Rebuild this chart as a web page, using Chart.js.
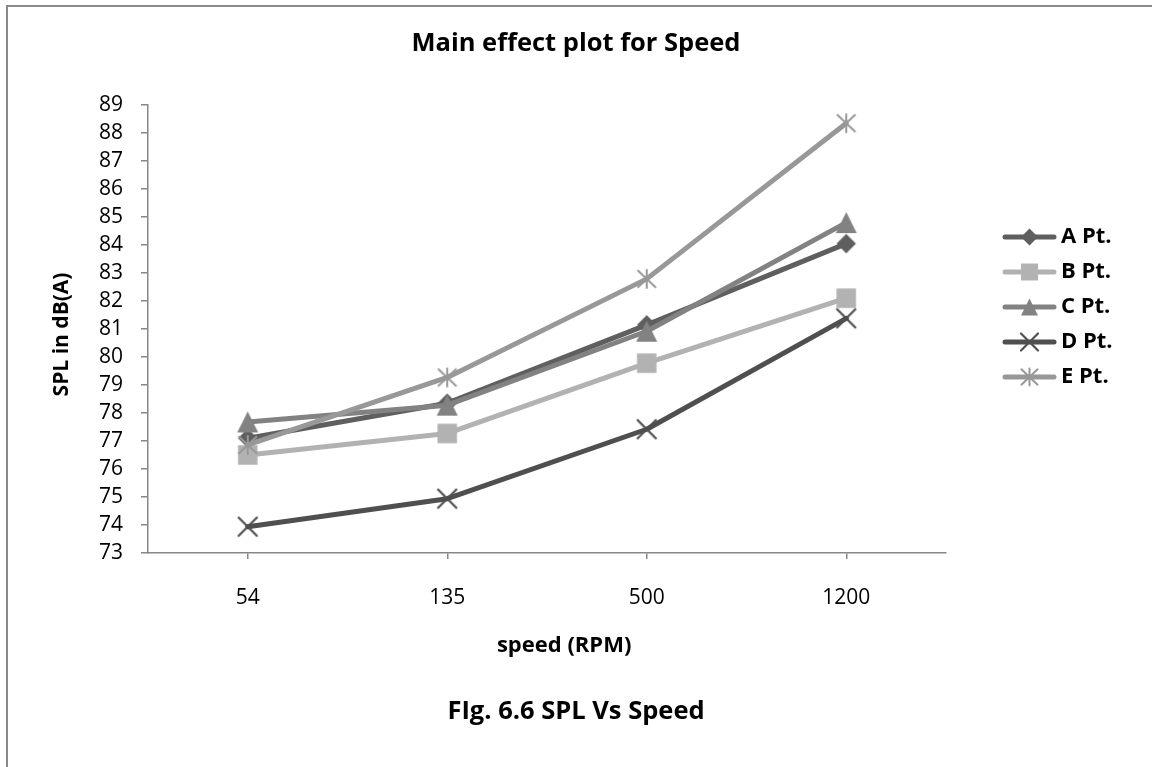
<!DOCTYPE html>
<html>
<head>
<meta charset="utf-8">
<title>SPL Vs Speed</title>
<script src="https://cdn.jsdelivr.net/npm/chart.js@4/dist/chart.umd.min.js"></script>
<style>
  html, body { margin: 0; padding: 0; background: #ffffff; }
  #frame {
    position: absolute; left: 6px; top: 5px; width: 1146px; height: 762px;
    border-left: 2px solid #8a8a8a; border-top: 2px solid #8a8a8a;
  }
  #wrap { position: absolute; left: 0; top: 0; width: 1152px; height: 767px; }
</style>
</head>
<body>
<div id="frame"></div>
<div id="wrap"><canvas id="chart" width="1152" height="767"></canvas></div>
<script>
// Speeds on the category axis
const speeds = ['54', '135', '500', '1200'];

// Measurement points (series names)
const seriesNames = ['A Pt.', 'B Pt.', 'C Pt.', 'D Pt.', 'E Pt.'];

// SPL in dB(A) for each point at each speed
const aPt = [77.10, 78.35, 81.15, 84.05];
const bPt = [76.50, 77.27, 79.78, 82.10];
const cPt = [77.68, 78.28, 80.92, 84.80];
const dPt = [73.94, 74.94, 77.42, 81.38];
const ePt = [76.86, 79.27, 82.79, 88.35];

// Value axis range and step
const yMin = 73;
const yMax = 89;
const yStep = 1;

const seriesValues = [aPt, bPt, cPt, dPt, ePt];

// Look of each series
const seriesColors = ['#5f5f5f', '#b2b2b2', '#828282', '#4f4f4f', '#989898'];
const seriesMarkers = ['diamond', 'square', 'triangle', 'cross', 'star'];

const FONT = '"Open Sans", Lato, "Liberation Sans", sans-serif';
Chart.defaults.font.family = FONT;
Chart.defaults.color = '#000000';

function drawMarker(g, kind, color, s) {
  const h = s / 2;
  g.fillStyle = color;
  g.strokeStyle = color;
  g.beginPath();
  switch (kind) {
    case 'diamond':
      g.moveTo(0, -h); g.lineTo(h, 0); g.lineTo(0, h); g.lineTo(-h, 0);
      g.closePath(); g.fill();
      break;
    case 'square':
      g.rect(-h, -h, s, s); g.fill();
      break;
    case 'triangle':
      g.moveTo(0, -h); g.lineTo(h, h); g.lineTo(-h, h);
      g.closePath(); g.fill();
      break;
    case 'cross':
      g.lineWidth = 2.2;
      g.moveTo(-h, -h); g.lineTo(h, h);
      g.moveTo(h, -h); g.lineTo(-h, h);
      g.stroke();
      break;
    case 'star':
      g.lineWidth = 2;
      g.moveTo(0, -h); g.lineTo(0, h);
      g.moveTo(-h * 0.95, -h * 0.9); g.lineTo(h * 0.95, h * 0.9);
      g.moveTo(h * 0.95, -h * 0.9); g.lineTo(-h * 0.95, h * 0.9);
      g.stroke();
      break;
  }
}

function markerImage(kind, color, s) {
  const w = Math.ceil(s + 6);
  const c = document.createElement('canvas');
  c.width = w; c.height = w;
  const g = c.getContext('2d');
  g.translate(w / 2, w / 2);
  drawMarker(g, kind, color, s);
  return c;
}

// Legend key: a short stroke of the series line with its marker in the middle
function legendImage(kind, color, s) {
  const w = 55, hgt = 24;
  const c = document.createElement('canvas');
  c.width = w; c.height = hgt;
  const g = c.getContext('2d');
  g.strokeStyle = color;
  g.lineWidth = 5;
  g.lineCap = 'round';
  g.beginPath();
  g.moveTo(3, hgt / 2); g.lineTo(w - 3, hgt / 2);
  g.stroke();
  g.translate(w / 2, hgt / 2);
  drawMarker(g, kind, color, s);
  return c;
}

const pointImages = seriesMarkers.map((m, i) => markerImage(m, seriesColors[i], m === 'triangle' ? 21 : 19.5));
const legendImages = seriesMarkers.map((m, i) => legendImage(m, seriesColors[i], 17));

// Space kept between the plot and the legend
let legendGapWidth = 0;

// Places the legend block beside the plot
const legendAnchor = {
  id: 'legendAnchor',
  afterLayout(chart, args, opts) {
    const lg = chart.legend;
    if (!lg) return;
    const dx = opts.left - lg.left;
    const dy = opts.centerY - (lg.top + lg.bottom) / 2;
    lg.left += dx; lg.right += dx;
    lg.top += dy; lg.bottom += dy;
  }
};

const chart = new Chart(document.getElementById('chart'), {
  type: 'line',
  data: {
    labels: speeds,
    datasets: seriesNames.map((name, i) => ({
      label: name,
      data: seriesValues[i],
      borderColor: seriesColors[i],
      backgroundColor: seriesColors[i],
      borderWidth: 5,
      borderJoinStyle: 'round',
      borderCapStyle: 'round',
      pointStyle: pointImages[i],
      pointRadius: 10,
      pointHoverRadius: 10,
      tension: 0,
      fill: false,
      order: seriesNames.length - i
    }))
  },
  options: {
    responsive: false,
    devicePixelRatio: 1,
    animation: false,
    events: [],
    layout: { padding: 0 },
    scales: {
      x: {
        type: 'category',
        offset: true,
        grid: {
          offset: false,
          drawOnChartArea: false,
          drawTicks: true,
          tickLength: 6,
          color: '#878787',
          lineWidth: 1.5
        },
        border: { color: '#878787', width: 1.5 },
        ticks: { padding: 26.4, font: { size: 21 }, color: '#000000', autoSkip: false, maxRotation: 0 },
        title: {
          display: true,
          text: '      speed (RPM)',
          font: { size: 22, weight: 'bold' },
          color: '#000000',
          padding: { top: -4.2, bottom: 0 }
        }
      },
      y: {
        min: yMin,
        max: yMax,
        grid: {
          drawOnChartArea: false,
          drawTicks: true,
          tickLength: 7,
          color: '#878787',
          lineWidth: 1.5
        },
        border: { color: '#878787', width: 1.5 },
        ticks: { stepSize: yStep, padding: 18, font: { size: 21 }, color: '#000000', autoSkip: false },
        title: {
          display: true,
          text: 'SPL in dB(A)  ',
          font: { size: 21, weight: 'bold' },
          color: '#000000',
          padding: { top: 49.4, bottom: 0 }
        },
        afterFit(scale) { scale.width = 148; }
      },
      legendGap: {
        type: 'linear',
        position: 'right',
        display: false,
        afterFit(scale) { scale.width = legendGapWidth; }
      }
    },
    plugins: {
      title: {
        display: true,
        text: 'Main effect plot for Speed',
        font: { size: 25.5, weight: 'bold' },
        color: '#000000',
        padding: { top: 28.7, bottom: 45.7 }
      },
      subtitle: {
        display: true,
        position: 'bottom',
        text: 'FIg. 6.6 SPL Vs Speed',
        font: { size: 25.5, weight: 'bold' },
        color: '#000000',
        padding: { top: 37.5, bottom: 39.7 }
      },
      legend: {
        display: true,
        position: 'right',
        labels: {
          usePointStyle: true,
          pointStyleWidth: 41,
          padding: 13,
          font: { size: 22, weight: 'bold' },
          color: '#000000',
          generateLabels(ch) {
            return ch.data.datasets.map((ds, i) => ({
              text: ds.label,
              pointStyle: legendImages[i],
              fillStyle: seriesColors[i],
              strokeStyle: seriesColors[i],
              lineWidth: 0,
              hidden: !ch.isDatasetVisible(i),
              datasetIndex: i,
              fontColor: '#000000'
            }));
          }
        }
      },
      legendAnchor: { left: 996, centerY: 307 },
      tooltip: { enabled: false }
    }
  },
  plugins: [legendAnchor]
});

// Size the gap so the plot ends where the legend column begins
legendGapWidth = Math.max(0, 1152 - 946 - chart.legend.width);
chart.update();
</script>
</body>
</html>
